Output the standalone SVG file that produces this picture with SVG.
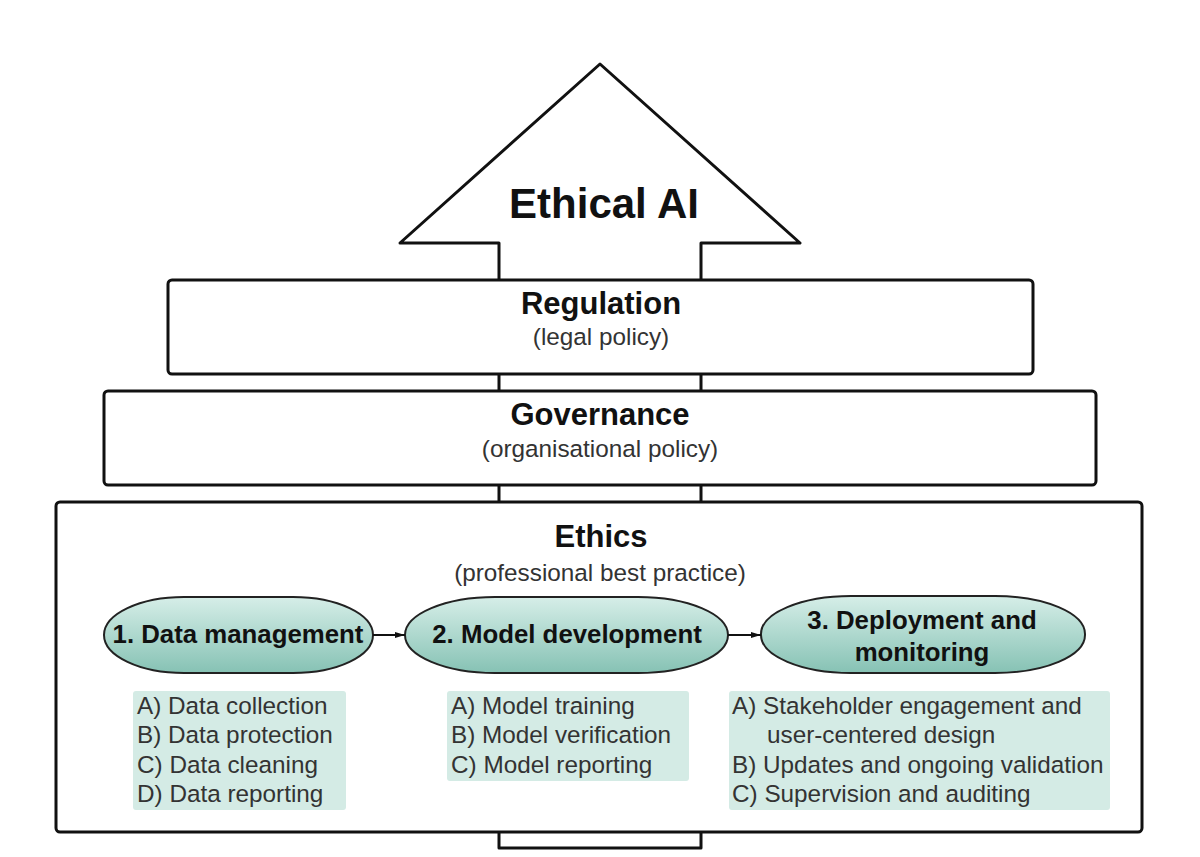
<svg xmlns="http://www.w3.org/2000/svg" width="1200" height="857" viewBox="0 0 1200 857">
<defs>
<linearGradient id="pill" x1="0" y1="0" x2="0" y2="1">
<stop offset="0" stop-color="#d6eee8"/>
<stop offset="1" stop-color="#86c2b4"/>
</linearGradient>
<marker id="ah" viewBox="0 0 10 10" refX="10" refY="5" markerWidth="10" markerHeight="10" orient="auto" markerUnits="userSpaceOnUse">
<path d="M0,2 L10,5 L0,8 z" fill="#111"/>
</marker>
</defs>
<style>
.outline{fill:#fff;stroke:#111;stroke-width:3;stroke-linejoin:round}
.title{font-family:"Liberation Sans",Arial,sans-serif;font-weight:bold;fill:#111;text-anchor:middle}
.sub{font-family:"Liberation Sans",Arial,sans-serif;font-size:24.3px;fill:#333;text-anchor:middle}
.pill{fill:url(#pill);stroke:#222;stroke-width:2}
.ptext{font-family:"Liberation Sans",Arial,sans-serif;font-weight:bold;font-size:25.8px;fill:#111;text-anchor:middle}
.lbox{fill:#d4ebe5}
.ltext{font-family:"Liberation Sans",Arial,sans-serif;font-size:24.3px;fill:#333}
.conn{stroke:#111;stroke-width:2;fill:none}
</style>
<rect width="1200" height="857" fill="#fff"/>
<g id="arrow">
<polygon class="outline" points="600,64 800,243 701,243 701,848 499,848 499,243 400,243"/>
<text class="title" x="604" y="218" font-size="42">Ethical AI</text>
</g>
<g id="regulation">
<rect class="outline" x="168" y="280" width="865" height="94" rx="4"/>
<text class="title" x="601" y="314" font-size="31">Regulation</text>
<text class="sub" x="601" y="345">(legal policy)</text>
</g>
<g id="governance">
<rect class="outline" x="104" y="391" width="992" height="94" rx="4"/>
<text class="title" x="600" y="425" font-size="31">Governance</text>
<text class="sub" x="600" y="457">(organisational policy)</text>
</g>
<g id="ethics">
<rect class="outline" x="56" y="502" width="1086" height="330" rx="4"/>
<text class="title" x="601" y="547" font-size="31">Ethics</text>
<text class="sub" x="600" y="581">(professional best practice)</text>
</g>
<g id="data-management">
<rect class="pill" x="104" y="597" width="269" height="76" rx="80" ry="38"/>
<text class="ptext" x="238" y="643">1. Data management</text>
<rect class="lbox" x="133" y="691" width="213" height="119" rx="3"/>
<text class="ltext" x="137" y="714">A) Data collection</text>
<text class="ltext" x="137" y="743">B) Data protection</text>
<text class="ltext" x="137" y="773">C) Data cleaning</text>
<text class="ltext" x="137" y="802">D) Data reporting</text>
</g>
<g id="model-development">
<rect class="pill" x="405" y="597" width="323" height="76" rx="90" ry="38"/>
<text class="ptext" x="567" y="643">2. Model development</text>
<rect class="lbox" x="447" y="691" width="242" height="90" rx="3"/>
<text class="ltext" x="451" y="714">A) Model training</text>
<text class="ltext" x="451" y="743">B) Model verification</text>
<text class="ltext" x="451" y="773">C) Model reporting</text>
</g>
<g id="deployment">
<rect class="pill" x="761" y="596" width="324" height="77" rx="90" ry="38"/>
<text class="ptext" x="922" y="629">3. Deployment and</text>
<text class="ptext" x="922" y="661">monitoring</text>
<rect class="lbox" x="729" y="691" width="381" height="119" rx="3"/>
<text class="ltext" x="732" y="714">A) Stakeholder engagement and</text>
<text class="ltext" x="767" y="743">user-centered design</text>
<text class="ltext" x="732" y="773">B) Updates and ongoing validation</text>
<text class="ltext" x="732" y="802">C) Supervision and auditing</text>
</g>
<g id="connectors">
<line class="conn" x1="373" y1="635" x2="405" y2="635" marker-end="url(#ah)"/>
<line class="conn" x1="728" y1="635" x2="761" y2="635" marker-end="url(#ah)"/>
</g>
</svg>
